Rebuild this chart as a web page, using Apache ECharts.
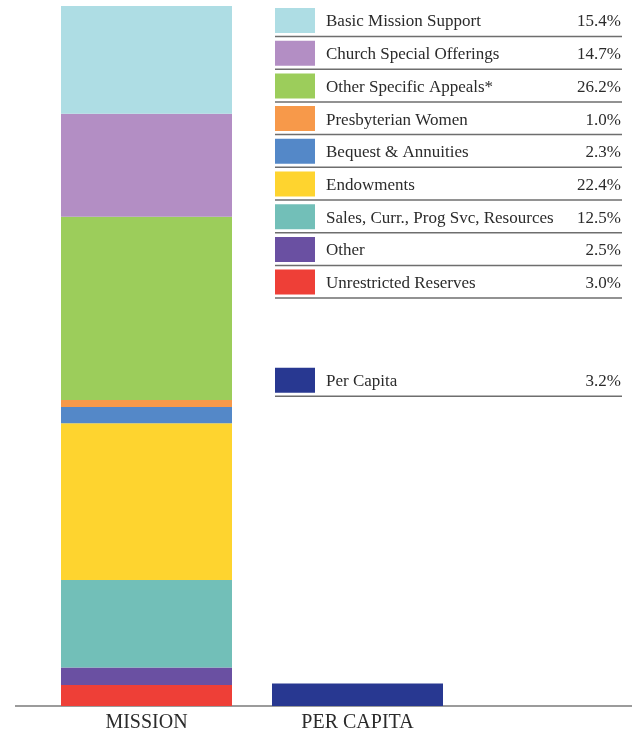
<!DOCTYPE html>
<html><head><meta charset="utf-8">
<script src="https://cdn.jsdelivr.net/npm/echarts@6/dist/echarts.min.js"></script>
<style>html,body{margin:0;padding:0;background:#fff;}#c{width:632px;height:734px;}</style>
</head><body><div id="c"></div>
<script>
var categories = ["MISSION", "PER CAPITA"];
var missionNames = ["Unrestricted Reserves", "Other", "Sales, Curr., Prog Svc, Resources", "Endowments", "Bequest & Annuities", "Presbyterian Women", "Other Specific Appeals*", "Church Special Offerings", "Basic Mission Support"];
var missionValues = [3.0, 2.5, 12.5, 22.4, 2.3, 1.0, 26.2, 14.7, 15.4];
var missionColors = ["#ee3f37", "#6a50a2", "#72bfb8", "#fed42f", "#5488c8", "#f7994a", "#9ccd5b", "#b38ec4", "#aedde4"];
var perCapitaName = "Per Capita";
var perCapitaValue = 3.2;
var perCapitaColor = "#283891";

var FONT = "'Liberation Serif', 'DejaVu Serif', serif";
var series = missionNames.map(function (n, i) {
  return { name: n, type: 'bar', stack: 'm', barWidth: 171, data: [missionValues[i], null],
    itemStyle: { color: missionColors[i] }, silent: true };
});
series.push({ name: perCapitaName, type: 'bar', stack: 'm', barWidth: 171, data: [null, perCapitaValue],
  itemStyle: { color: perCapitaColor }, silent: true });

// legend table (top to bottom order)
var rows = [];
for (var i = missionNames.length - 1; i >= 0; i--) rows.push({ n: missionNames[i], v: missionValues[i], c: missionColors[i] });
rows.push(null); rows.push(null);
rows.push({ n: perCapitaName, v: perCapitaValue, c: perCapitaColor });
var graphic = [];
var pitch = 32.7;
rows.forEach(function (r, i) {
  if (!r) return;
  var top = 8 + pitch * i;
  graphic.push({ type: 'rect', shape: { x: 275, y: top, width: 40, height: 25 }, style: { fill: r.c } });
  graphic.push({ type: 'text', x: 326, y: top + 14, style: { text: r.n, font: '17px ' + FONT, fill: '#2b2b2b', textVerticalAlign: 'middle', verticalAlign: 'middle' } });
  graphic.push({ type: 'text', x: 621, y: top + 14, style: { text: r.v.toFixed(1) + '%', font: '17px ' + FONT, fill: '#2b2b2b', align: 'right', textAlign: 'right', verticalAlign: 'middle', textVerticalAlign: 'middle' } });
  graphic.push({ type: 'line', shape: { x1: 275, y1: top + 28.5, x2: 622, y2: top + 28.5 }, style: { stroke: '#6e6e6e', lineWidth: 1.5 } });
});
graphic.push({ type: 'line', shape: { x1: 15, y1: 706, x2: 632, y2: 706 }, style: { stroke: '#7a7a7a', lineWidth: 1.5 } });

var chart = echarts.init(document.getElementById('c'), null, { renderer: 'canvas' });
chart.setOption({
  animation: false,
  grid: { left: 41, top: 6, width: 422, bottom: 28 },
  xAxis: { type: 'category', data: categories, axisLine: { show: false }, axisTick: { show: false },
    axisLabel: { fontFamily: FONT, fontSize: 20, color: '#2b2b2b', margin: 7 } },
  yAxis: { type: 'value', min: 0, max: 100, show: false, splitLine: { show: false } },
  series: series,
  graphic: graphic
});
</script></body></html>
